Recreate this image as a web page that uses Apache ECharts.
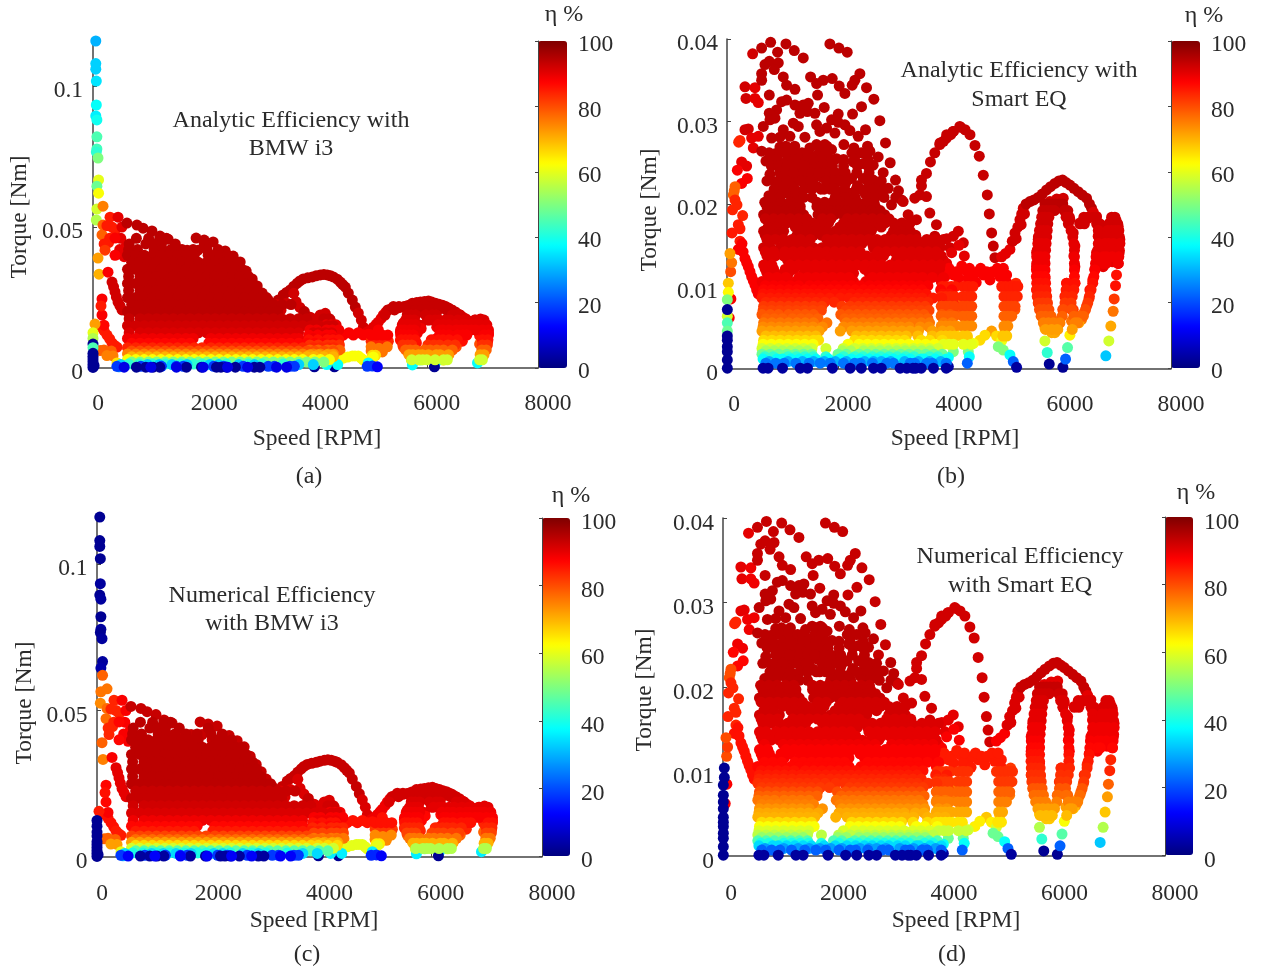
<!DOCTYPE html>
<html>
<head>
<meta charset="utf-8">
<style>html,body{margin:0;padding:0;background:#fff}#c{width:1261px;height:971px}</style>
<script src="https://cdn.jsdelivr.net/npm/echarts@6/dist/echarts.min.js"></script>
</head>
<body>
<div id="c"></div>
<script>
const speedTicks = [0, 2000, 4000, 6000, 8000];
const etaTicks = [0, 20, 40, 60, 80, 100];
const bmwTorqueTicks = [0, 0.05, 0.1];
const smartTorqueTicks = [0, 0.01, 0.02, 0.03, 0.04];

// Groups: [eta analytic, eta numerical, [speed, torque, speed, torque, ...]]
const bmwAxisHigh = [
 [30,2,[50,.116]],[33,2,[50,.108,50,.106]],[35,2,[60,.1018]],[38,3,[60,.0933]],[36,2,[50,.0894]],[39,3,[70,.088]],
 [45,2,[70,.082]],[44,3,[70,.0777]],[42,2,[60,.0766]],[50,3,[90,.0745]],[60,3,[100,.0667]],[48,4,[70,.0645]],[62,78,[100,.062]],
 [58,76,[70,.0564]],[55,74,[60,.0525]],[75,76,[180,.0574]],[85,84,[306,.0535]],[90,88,[450,.0535]],[78,77,[180,.0507,162,.0472]],
 [85,84,[342,.05,250,.0505,400,.049,300,.046,280,.0445,200,.044]],[90,88,[500,.046,480,.042,600,.0435,560,.0395,520,.050]],
 [88,87,[396,.0461,396,.04]],[82,84,[216,.0418]],[72,78,[90,.039]],[70,75,[108,.0333]],[88,88,[270,.034]],
 [92,90,[342,.0305,396,.027,450,.0234,522,.0206,370,.0288,420,.0252,486,.022]],[88,87,[162,.0245,162,.0188]],[85,86,[144,.022,144,.0145,252,.0117,200,.0132,300,.0103]],
 [87,88,[198,.0152]],[85,85,[342,.0089,432,.0074,390,.008]],[78,78,[198,.0064,270,.0053,130,.0062,330,.006]],[75,72,[360,.0043,250,.0044]],[65,60,[432,.0018]],[25,30,[468,.0004]]
];
const bmwCurves = [
 [94,93,[610,.0514,790,.0507,900,.0496,1060,.0486,1205,.0468,1350,.0457,1854,.0461,1998,.0454,2160,.0447,1494,.0426,1692,.0418,1890,.0418,2070,.04,2250,.0404,2376,.0415,2520,.0397,2646,.0376,2754,.0344,2862,.0316,2952,.0291,3042,.0266,3150,.0241,3240,.0216]],
 [94,93,[3330,.0241,3420,.0259,3546,.0277,3672,.0301,3780,.0316,3942,.0323,4086,.033,4212,.033,4320,.0323,4446,.0305,4536,.0287,4590,.0266,4662,.0241,4716,.0216,3480,.0268,3610,.029,3720,.0309,3860,.032,4010,.0327,4150,.0332,4270,.0327,4390,.0315,4490,.0296]],
 [92,91,[3300,.0225,3380,.0205,3480,.023,3610,.0265,4770,.0195,4824,.017,4860,.0145,3786,.02,3906,.018,4026,.0176,4086,.0188,4176,.0194,4266,.017,4296,.0147,3650,.0235,3720,.0215]],
 [90,89,[4932,.0128,5040,.0145,5130,.0163,5220,.0188,4990,.0135,5090,.0155,5180,.0176,5265,.0198]],
 [93,92,[5310,.0206,5436,.0213,5580,.0216,5742,.023,5886,.0234,6030,.0238,6156,.023,6282,.0223,6390,.0213,6516,.0199,5370,.021,5500,.0214,5660,.0222,5820,.0232,5960,.0236,6090,.0234,6220,.0226,6340,.0218,6450,.0206]],
 [91,90,[6642,.0181,6750,.0167,6876,.017,6966,.0174,6580,.019,6700,.0175,5652,.0188,5760,.0206,5886,.0213,6012,.0206,6120,.0188,5580,.016,6210,.016,6012,.017,5886,.0152,6372,.0152,6516,.0145,5650,.0175,5780,.019,5950,.0195,6080,.018,6440,.015]],
 [89,87,[7056,.0152,7110,.0124,5526,.0128,5650,.0145,6282,.0128,6180,.0145,5832,.0124,6570,.0117,6680,.0145,6880,.0135,7020,.015,6780,.015,5900,.014,6640,.013]],
 [86,84,[7092,.0092,6950,.0115,5526,.0099,5650,.011,6282,.0099,6180,.0105,5814,.0089,6120,.0099,6552,.0089,6640,.0095,7000,.0105]],
 [80,78,[7056,.0071,5580,.0074,5680,.008,6246,.0071,6170,.0075,6066,.0082,6950,.0085,6462,.0064,6530,.0075,7020,.007]],
 [74,72,[5670,.0053,5850,.0053,6012,.0053,6100,.0058,6400,.0048,7000,.0048]],
 [66,62,[7002,.0039,5724,.0028,6192,.0039,6372,.0039,5770,.0038,6300,.0028]],
 [50,46,[5940,.0035,5890,.0028,6090,.0028]],
 [38,36,[6912,.0018,5742,.0011,6156,.0018]],
 [2,2,[6138,.0004,4340,.0004,3980,.0004]],
 [88,86,[4320,.0117,4500,.0117,4680,.0117,4860,.0117,5040,.011,5130,.0135,4600,.0125,4770,.0125,4950,.012,4420,.012]],
 [84,82,[5220,.0106,5292,.0089,5076,.0074,5160,.0095,5000,.0095,5100,.0085,5220,.0085,5310,.0095]],
 [76,74,[5202,.0057,5140,.007,4440,.0062,5000,.0075,5290,.0075,5080,.0055,5000,.006]],
 [66,64,[5020,.0045,5080,.0045]],
 [62,60,[5040,.0039,4986,.0028,4320,.0028]],
 [62,60,[4500,.0035,4662,.0043,4770,.0043,4860,.0028,4420,.0032,4580,.0039,4710,.0043,4820,.0035]],
 [38,36,[4950,.0018,4400,.0012,4200,.0012]],
 [18,16,[5022,.0007,4930,.0006]],[12,12,[5112,.0004]]
];
// Rows: [torque, eta analytic, eta numerical, [speeds]]
const bmwBands = [
 [.0460,94,94,[780,1000,1200,1320]],
 [.0440,94,94,[650,950,1090,1230,1480,2000]],
 [.0420,94,94,[640,800,1100,1250,1400,1600,1800,2050,2250]],
 [.0400,94,94,[620,770,920,1070,1220,1370,1520,1670,1820,2130,2280,2420]],
 [.0375,94,94,[695,845,995,1145,1295,1445,1595,1745,1895,2045,2195,2345,2495,2600]],
 [.0350,94,94,[620,770,920,1070,1220,1370,1520,1670,1820,1970,2120,2270,2420,2570,2680]],
 [.0325,94,94,[640,845,995,1145,1295,1445,1595,1745,1895,2045,2195,2345,2495,2645,2795]],
 [.0300,94,94,[620,770,920,1070,1220,1370,1520,1670,1820,1970,2120,2270,2420,2570,2720,2870]],
 [.0275,94,94,[640,845,995,1145,1295,1445,1595,1745,1895,2045,2195,2345,2495,2645,2795,2945]],
 [.0250,94,94,[620,770,920,1070,1220,1370,1520,1670,1820,1970,2120,2270,2420,2570,2720,2870,3020,3120]],
 [.0225,94,93,[695,845,995,1145,1295,1445,1595,1745,1895,2045,2195,2345,2495,2645,2795,2945,3095,3245,3400,3560]],
 [.0200,94,93,[620,770,920,1070,1220,1370,1520,1670,1820,1970,2120,2270,2420,2570,2720,2870,3020,3170,3320,3800]],
 [.0175,93,92,[650,845,995,1145,1295,1445,1595,1745,1895,2045,2195,2345,2495,2645,2795,2945,3095,3245,3395,3545,3695,3845,4150,4250]],
 [.0150,92,91,[620,770,920,1070,1220,1370,1520,1670,1820,1970,2120,2270,2420,2570,2720,2870,3020,3170,3320,3470,3620,3770,3920,4070,4220,4320]],
 [.0125,91,89,[650,845,995,1145,1295,1445,1595,1745,1895,2045,2195,2345,2495,2645,2795,2945,3095,3245,3395,3545,3695,3960,4050,4176,4290]],
 [.0105,89,87,[620,770,920,1070,1220,1370,1520,1670,1800,2120,2270,2420,2570,2720,2870,3020,3170,3320,3470,3620,3700,3960,4176,4320]],
 [.0088,87,85,[695,845,995,1145,1295,1445,1595,1745,2080,2195,2345,2495,2645,2795,2945,3095,3245,3395,3545,3700,3850,3990,4150,4320]],
 [.0072,84,81,[620,770,920,1070,1220,1370,1520,1670,1820,1960,2120,2270,2420,2570,2720,2870,3020,3170,3320,3470,3620,3770,3960,4090,4230,4330]],
 [.0060,80,77,[695,845,995,1145,1295,1445,1595,1745,1895,2045,2195,2345,2495,2645,2795,2945,3095,3245,3395,3545,3695,3845,3980,4150,4320]],
 [.0050,75,72,[620,770,920,1070,1220,1370,1520,1670,1820,1970,2120,2270,2420,2570,2720,2870,3020,3170,3320,3470,3620,3770,3960,4090,4230,4330]],
 [.0040,70,66,[695,845,995,1145,1295,1445,1595,1745,1895,2045,2195,2345,2495,2645,2795,2945,3095,3245,3395,3545,3695,3845,3980,4150,4320]],
 [.0030,62,58,[620,770,920,1070,1220,1370,1520,1670,1820,1970,2120,2270,2420,2570,2720,2870,3020,3170,3320,3470,3620,3770,3960,4090,4250]],
 [.0021,50,46,[695,845,995,1145,1295,1445,1595,1745,1895,2045,2195,2345,2495,2645,2795,2945,3095,3245,3395,3545,3695,3845,3990,4150]],
 [.0014,42,40,[640,830,1070,1300,1570,1810,1960,2400,2790,3040,3420]],
 [.0012,33,34,[500,980,1190,1420,1690,2100,2260,2620,2900,3700,3960]],
 [.0006,18,18,[430,860,1230,1500,1620,2170,2350,2700,3150,3260,3540,3620]],
 [.0003,2,3,[780,950,1080,1200,1680,1950,2220,2300,2400,2560,2900,3000]],
 [.0003,10,12,[560,1040,1500,1980,2420,2780,3300,3480]]
];
const bmwRings = [
 [.0218,93,92,[5400,5500,5600,5700,5800,5900,6000,6100,6200,6300]],
 [.0206,93,92,[5300,5420,5800,5900,6000,6100,6200,6350,6450]],
 [.0188,92,91,[5250,5650,5720,5800,5980,6100,6170,6460,6530,6600]],
 [.0170,91,90,[5620,5700,5780,6050,6150,6220,6330,6420,6560,6680,6860,6950,7030]],
 [.0153,90,89,[5560,5640,5720,5800,6200,6300,6400,6520,6640,6700,6800,6880,6960,7080,4190,4280,4370]],
 [.0135,89,88,[5530,5600,5700,5780,6230,6290,6400,6530,6620,6700,6800,6880,7000,7110,4200,4300,4420,3900,4020]],
 [.0117,88,86,[5530,5590,5680,5760,6230,6300,6400,6550,6650,6720,7110,7030,5000,5100,5200,5300,4200,4290,3880,4040]],
 [.0100,86,84,[5540,5620,5700,5790,6080,6210,6290,6400,6550,7000,7100,4210,4310,4420,3880,4040]],
 [.0082,83,81,[5570,5660,5730,6020,6130,6230,6380,6510,7000,7090,4210,4310,4430,3900,4050]],
 [.0064,78,76,[5620,5700,5800,5960,6060,6180,6300,6460,6990,7070,4210,4310,4430,3900,4050]],
 [.0047,72,70,[5680,5750,5850,5920,6030,6170,6240,6390,6960,7030,4210,4310,3900,4050]],
 [.0029,58,55,[5730,5860,5930,6000,6150,6300,6370,6950,7000]]
];
const bmwAxisLow = [
 [72,85,[36,.0156]],[60,2,[0,.0125]],[55,2,[0,.0105]],[2,2,[0,.0085]],[45,2,[0,.0072]],
 [2,2,[0,.0052,0,.0042,0,.0032,0,.0022,0,.0012,0,.0002,20,.0008]]
];

const smartAxisHigh = [
 [92,90,[462,.0382,324,.0342,342,.0328,324,.029,384,.0291]],
 [84,84,[234,.0277,210,.0275]],
 [90,89,[504,.0341,504,.0328,564,.0323,444,.028,564,.0282,474,.0268,264,.0251,354,.0246]],
 [88,87,[186,.0241,366,.0231,264,.0225]],
 [78,80,[144,.0221,114,.0211,130,.0216]],
 [84,84,[144,.0205,100,.0193,180,.0199,282,.0186]],
 [85,84,[234,.0155,90,.0165,234,.017,204,.0175]],
 [88,86,[204,.0145,324,.0134,384,.0124,444,.0112,504,.0102,564,.0091,270,.0152,290,.0142,354,.0129,414,.0118,474,.0107,534,.0096]],
 [80,80,[66,.0118]],[76,82,[84,.0129]],[72,80,[54,.014]],[88,88,[70,.0085,40,.0062]]
];
const smartAxisLow = [
 [68,2,[24,.0104]],[63,2,[24,.0093]],[50,2,[6,.0084]],[58,2,[6,.0064]],[45,2,[6,.0056]],[48,2,[6,.0046]],
 [2,2,[6,.0072,6,.004,6,.0035,6,.0027,6,.0021,6,.0011,6,.0001]]
];
const smartUpper = [
 [94,93,[786,.0396,624,.0389,1062,.0394,912,.0384,1212,.0386,1374,.0377,1854,.0394,2016,.0389,2166,.0384,924,.0371,762,.0373,684,.0369,624,.0358,852,.0363,624,.035,1014,.0354,1074,.0344,1224,.0339,1506,.0354,1614,.0346,1734,.035,1896,.0352,2022,.0343,2124,.0334,1632,.0332,2394,.0358,2304,.035,2256,.0344,2514,.0341,2646,.0327,762,.0332,1752,.0317,2424,.0318,2262,.0309,2754,.0301,2856,.0274,2940,.025,2814,.0238]],
 [94,94,[1074,.0326,984,.0324,894,.0314,762,.031,864,.0304,774,.0302,654,.0294,1224,.032,1374,.032,1464,.0322,1446,.0312,1584,.031,1314,.031,2004,.0309,1884,.0302,2004,.0299,1614,.0296,1674,.0288,1794,.0292,1944,.0286,2124,.0296,2214,.0289,2496,.029,2364,.0282,1284,.0294,1194,.0298,804,.028,1014,.029,954,.0281,1134,.0282,1404,.0281,2106,.0272,2286,.0268,2532,.027,2574,.0264,954,.0269,864,.0261,702,.0252,834,.0253,1014,.0249,1164,.0249,1284,.0255,1374,.0261,1494,.0268,1614,.0272,1764,.0272,1884,.0266,1974,.0255,1794,.0255,2274,.0251,2454,.0249,2724,.0257,2634,.0247,624,.0264]],
 [94,94,[774,.0236,864,.0227,1164,.0241,1314,.0241,1464,.0243,1584,.0247,1734,.0241,1704,.0233,2034,.0237,2244,.0231,2454,.0231,2634,.0229,2904,.0219,3036,.0229,3090,.0216,2706,.0221,2754,.0211,2484,.0213,2244,.0213,2034,.0213,1854,.0223,1632,.0221,1434,.0221,1224,.0227,1014,.0227,954,.0217,1104,.0213,1314,.0213,756,.021,2964,.0199,3144,.0205]],
 [94,94,[1400,.0252,1520,.0258,1660,.0262,1000,.0237,1150,.0232,1300,.023,1450,.0233,1580,.0236,1800,.0233,1950,.0226,2130,.0224,2350,.0222,2560,.0221,1150,.0222,1550,.0228,1750,.0218]],
 [94,94,[1060,.027,1220,.027,1700,.027,1800,.027,760,.0262,950,.0262,1050,.0262,1180,.0262,1350,.0262,1450,.0262,1700,.0262,1780,.0262,2250,.0262,2420,.0262,900,.0254,1090,.0254,1220,.0254,1450,.0254,1560,.0254,1680,.0254,1880,.0254,2100,.0254,2300,.0254,2540,.0254,800,.0246,930,.0246,1080,.0246,1240,.0246,1390,.0246,1690,.0246,1810,.0246,1900,.0246,2100,.0246,2350,.0246,2540,.0246]],
 [94,94,[950,.0238,1060,.0238,1200,.0238,1380,.0238,1530,.0238,1660,.0238,1850,.0238,1950,.0238,2130,.0238,2340,.0238,2560,.0238,720,.0228,940,.0228,1080,.0228,1340,.0228,1500,.0228,1790,.0228,1930,.0228,2060,.0228,2160,.0228,2540,.0228,2780,.0228,850,.0218,1020,.0218,1220,.0218,1390,.0218,1530,.0218,1690,.0218,1860,.0218,1950,.0218,2120,.0218,2330,.0218,2420,.0218,2620,.0218,2840,.0218,830,.0208,950,.0208,1230,.0208,1380,.0208,1530,.0208,1950,.0208,2120,.0208,2310,.0208,2560,.0208,2650,.0208,2830,.0208,3040,.0208]],
 [93,92,[3174,.0203,3264,.0187,3414,.0181,3654,.0189,3774,.0175,3744,.0161,3384,.0207,3474,.0211,3594,.0209,3504,.0222,3504,.0229,3594,.0237,3666,.0251,3744,.0262,3834,.0272,3954,.028,4074,.0288,4194,.0294,4030,.0284,3900,.0276]],
 [93,92,[3838,.0274,3958,.0284,4078,.0288,4210,.0293,4378,.0284,4468,.0271,4546,.0258,4618,.0235,4690,.0211,4726,.0188,4768,.0165,4798,.0149,4828,.0135,4290,.029]],
 [92,90,[4018,.0147,4078,.0161,4168,.0167,4258,.0153,3960,.0158]],
 [90,88,[3958,.0128,4048,.0141,4276,.0137,3898,.0132,4180,.015,4948,.0136,5098,.0145,5020,.014,5140,.0155]],
 [88,85,[3928,.0112,4078,.0114,4288,.012,4438,.0112,4618,.0114,4738,.0108,4918,.0112,5038,.0114,4170,.011,4340,.011,4520,.0118,4830,.0118,3860,.0122,4000,.0122,4130,.0118,4230,.0125,4370,.0122,4490,.0105,4570,.0122,4680,.0118,4780,.0118,4870,.0122,4980,.0122,5040,.0105]],
 [92,91,[5188,.0165,5278,.0181,5338,.0195,5240,.0172,5310,.0188,5150,.0155,5210,.0158,5300,.0175,5360,.0188]],
 [94,93,[5458,.0203,5608,.0208,5758,.0217,5908,.0225,6046,.0229,6178,.0223,6328,.0215,6478,.0207,6568,.0195,5390,.02,5530,.0205,5680,.0212,5830,.0221,5980,.0228,6110,.0226,6250,.0219,6400,.0211,6530,.02]],
 [91,90,[6658,.0185,6358,.0177,6508,.0183,6430,.018,6600,.019,6718,.0173,6868,.0169,6958,.0183,7048,.0173,6910,.0178,7010,.018,6960,.0165,6778,.0157,6898,.0149,7078,.0157,7066,.0141,6990,.015,6830,.0165]],
 [92,90,[6058,.0207,5818,.0203,5728,.0193,5668,.0177,5608,.0157,5940,.0206,6000,.0205,5780,.0186,5960,.0195,5860,.02,6178,.0181,6238,.0165,6100,.019]],
 [90,88,[6748,.0141,6826,.0132,7048,.0128,6778,.0124,5578,.0141,5578,.0124,5700,.015,5720,.013,5730,.011,6268,.0149,6250,.0137,6268,.0124,6688,.0161,6658,.0141,6628,.0121,6950,.013]],
 [86,84,[7018,.0114,7000,.0101,5578,.0096,5745,.0095,6268,.0104,6118,.0104,6538,.0096,6590,.0108,6208,.009,6088,.0088]],
 [82,78,[6976,.0085,5608,.008,5760,.008,6478,.0076,6238,.0072,6050,.0072,6520,.0085]],
 [76,72,[6958,.007,5668,.0064,5780,.0065,6388,.006,6298,.006,6208,.0058,5980,.0058,6430,.0068]],
 [71,68,[6916,.0052,5728,.005,5830,.005,5908,.0044,5850,.0044,5960,.0048,6340,.0056]],
 [58,55,[6880,.0034,5728,.0034]],[64,62,[6178,.0041]],[46,46,[6136,.0026]],[42,42,[5770,.002]],[32,32,[6826,.0016]],
 [2,2,[5806,.0006,6052,.0002]],[22,22,[6100,.0012]],
 [84,82,[5206,.0104,5128,.01,5068,.0094,5230,.0088,5128,.0084,5068,.008]],
 [79,76,[5188,.0072,5038,.0064,5110,.0064]],
 [72,68,[5008,.0048,4768,.0046]],
 [85,82,[4348,.01,4108,.0081,3958,.0085,4348,.0085]],
 [79,76,[4348,.0068,3958,.0068,4140,.0072,4250,.0085]],
 [72,70,[4348,.0052,3958,.0052,4140,.0052]],
 [66,64,[3988,.0044,4330,.0038,4648,.0041,4558,.0035,4858,.004,4140,.004]],
 [61,58,[3988,.0033,4288,.0031,4438,.0031,4948,.0034,4080,.003]],
 [50,48,[4078,.0021,4348,.0021,4978,.0023,4888,.0027]],
 [38,38,[3988,.0014,3868,.0014,4366,.0015,5098,.0017]],
 [22,22,[5158,.0009,4330,.0007]],[3,3,[3988,.0003,5218,.0002]]
];
const smartBands = [
 [.0202,94,93,[680,830,980,1130,1280,1620,1760,1900,2050,2200,2350,2500,2650]],
 [.0197,94,93,[720,870,1020,1170,1320,1620,1770,1920,2070,2220,2370,2520,2670]],
 [.0192,94,93,[740,890,1040,1190,1320,1700,1850,2000,2150,2300,2450,2600,2760]],
 [.0187,94,93,[660,810,960,1110,1260,1380,1640,1790,1940,2090,2240,2390,2540,2690,2840]],
 [.0182,93,92,[690,840,990,1140,1290,1440,1720,1870,2170,2320,2470,2620,2770,2920]],
 [.0177,93,92,[780,930,1080,1230,1380,1530,1680,1830,2100,2250,2400,2550,2700,2850,3000,3150,3300]],
 [.0172,93,92,[740,890,1230,1300,1450,1600,1750,2030,2180,2330,2480,2630,2780,3080,3230]],
 [.0167,93,92,[660,810,1020,1350,1500,1650,1800,1950,2100,2250,2380,2600,3000,3150,3300]],
 [.0162,93,91,[690,840,990,1260,1410,1560,1710,1860,2010,2160,2310,2460,2960,3110,3260,3400]],
 [.0157,92,91,[720,870,1020,1170,1320,1500,1800,1950,2100,2250,2400,2550,2700,2850,3000,3150,3300,3420,3600,3750,3900]],
 [.0152,92,91,[740,1090,1240,1390,1830,1980,2130,2280,2430,2620,2770,2920,3070,3220,3370,3530,3680,3830]],
 [.0147,92,90,[660,780,960,1110,1260,1410,1560,1710,1860,2010,2160,2310,2640,2790,2940,3090,3240,3390,3540,3690,3840]],
 [.0142,91,90,[690,840,1040,1190,1340,1490,1640,1790,1940,2090,2240,2400,2720,2870,3020,3170,3320,3470,3620,3770]],
 [.0137,91,90,[720,870,1020,1170,1320,1470,1620,1770,1920,2070,2220,2370,2520,2670,2820,3120,3270,3420,3570,3740,3860]],
 [.0132,91,89,[750,1090,1240,1390,1540,1690,1840,1990,2140,2290,2440,2590,2750,3050,3200,3350,3500,3640,3800]],
 [.0126,90,88,[660,810,1140,1290,1440,1590,1740,1890,2040,2190,2340,2490,2640,2790,2940,3090,3240,3390,3540,3690,3840]],
 [.0121,90,88,[690,840,1050,1210,1460,1610,1760,1910,2060,2210,2480,2630,2780,2930,3080,3230,3380,3530,3680,3830]],
 [.0116,90,88,[720,870,1020,1110,1380,1530,1680,1830,1980,2130,2280,2560,2710,2860,3010,3160,3310,3460,3610,3800]],
 [.0111,89,87,[750,900,1060,1300,1450,1600,1750,1900,2050,2200,2620,2770,2920,3070,3220,3370,3520,3700,3900]],
 [.0106,89,87,[630,780,930,1080,1230,1380,1530,1680,1830,1980,2130,2280,2500,2650,2800,2950,3100,3250,3400,3550,3860]],
 [.0101,88,86,[690,840,990,1140,1290,1490,1640,1790,1940,2090,2240,2400,2570,2720,2870,3020,3170,3320,3470,3620,3880]],
 [.0096,87,85,[660,810,960,1110,1260,1410,1560,1710,1860,2010,2160,2310,2460,2610,2760,2910,3060,3210,3360,3510,3850,4050]],
 [.0091,86,84,[650,800,950,1100,1250,1400,1500,1640,1790,1940,2090,2240,2390,2540,2690,2840,2990,3140,3290,3440,3590,3880,4000]],
 [.0086,85,83,[630,780,930,1080,1230,1380,1530,1680,1850,2040,2200,2350,2500,2650,2800,2950,3100,3250,3400,3520,3714,3870]],
 [.0081,84,82,[700,850,1000,1150,1300,1450,1600,1760,1930,2290,2440,2590,2740,2890,3040,3190,3340,3490,3620]],
 [.0076,82,80,[660,810,960,1110,1260,1410,1560,1710,2070,2220,2370,2520,2670,2820,2970,3120,3270,3420,3570,3870,4000]],
 [.0071,81,78,[650,800,950,1100,1250,1400,1550,1700,2140,2290,2440,2590,2740,2890,3040,3190,3340,3490,3640]],
 [.0066,79,76,[630,780,930,1110,1260,1410,1560,2050,2200,2350,2500,2650,2800,2950,3100,3250,3400,3550,3870,4020]],
 [.0061,78,75,[700,850,1000,1180,1330,1480,1640,2120,2270,2420,2570,2720,2870,3020,3170,3320,3470,3620]],
 [.0056,76,73,[660,810,960,1110,1260,1410,1560,1800,2150,2300,2450,2600,2750,2900,3050,3200,3350,3500,3650,3900,4050]],
 [.0051,74,71,[650,800,950,1100,1250,1400,1550,1720,2100,2240,2380,2530,2680,2830,2980,3130,3280,3480,3640]],
 [.0046,72,70,[630,780,930,1080,1230,1380,1530,1660,2040,2250,2400,2550,2700,2850,3000,3150,3300,3450,3700,3880,4020]],
 [.0040,69,66,[700,850,1000,1150,1300,1450,1600,2330,2480,2630,2780,2930,3080,3230,3440,3700]],
 [.0035,66,62,[660,810,960,1110,1260,1410,1560,1650,2300,2450,2600,2750,2900,3050,3200,3500,3650,3880]],
 [.0030,62,59,[650,800,950,1100,1250,1400,1550,2180,2380,2530,2680,2830,2980,3130,3280,3430,3580,3740]],
 [.0025,58,56,[630,780,930,1080,1230,1380,1530,1782,2094,2300,2450,2600,2750,2900,3050,3200,3360,3500,3650,3800]],
 [.0022,54,52,[700,850,1000,1150,1300,1450,2080,2230,2460,2610,2760,2910,3060,3210,3360,3510,3660]],
 [.0018,48,45,[630,780,930,1080,1230,1380,1530,2000,2150,2380,2530,2680,2830,2980,3130,3280,3430,3580,3730,3880]],
 [.0015,42,40,[680,830,1100,1250,1400,1550,1780,2100,2300,2450,2620,2770,2920,3070,3220,3370,3650,3800]],
 [.0012,38,34,[650,900,1000,1150,1300,1450,1600,1830,2030,2240,2400,2560,2700,2860,3000,3160,3300,3500,3550,3750,3950]],
 [.0009,30,28,[760,1100,1360,1560,1750,1950,2150,2480,2640,2780,2950,3200,3450,3650,3850]],
 [.0007,24,22,[700,880,1030,1240,1480,1680,1860,2100,2300,2400,2620,2880,3000,3300,3380,3600,3700,3950]],
 [.0001,3,3,[650,740,1000,1320,1450,1900,2220,2420,2640,2780,3120,3240,3350,3400,3500,3720,3950]]
];
const smartRings = [
 [.0200,94,93,[5730,5800,5860,5920,5990,6050]],
 [.0192,93,92,[5690,5760,5830,5900,6080,6140]],
 [.0184,92,91,[5670,5730,5800,6110,6170,6430,6500,6600,6650,6930,6990]],
 [.0176,92,91,[5650,5710,5780,6150,6360,6440,6660,6720,6880,6960,7040]],
 [.0168,91,90,[5630,5700,5770,6200,6690,6860,6930,7000,7060]],
 [.0160,91,90,[5610,5680,5760,6230,6700,6830,6900,6970,7070]],
 [.0152,90,89,[5600,5670,5750,6250,6690,6810,6880,6960,7080]],
 [.0144,90,89,[5590,5660,5740,6260,6680,6790,6860,6950,7070]],
 [.0136,89,88,[5580,5650,5730,6260,6650,6780,6840,6940,7060]],
 [.0128,89,87,[5580,5650,5730,6260,6640,6780,6830,7050]],
 [.0120,88,86,[5575,5650,5730,6260,6630]],
 [.0112,87,85,[5575,5650,5730,6260,6610]],
 [.0104,86,84,[5580,5650,5740,6120,6270,6590]],
 [.0100,85,83,[3880,3960,4040,4110,4260,4340,4430,4950,5020,5100,5170,5240]],
 [.0096,85,83,[5580,5660,5745,6110,6250,6560]],
 [.0088,84,82,[3860,3940,4020,4100,4250,4330,4410,4990,5060,5130,5200,5590,5670,5760,6100,6220,6530]],
 [.0080,82,79,[5610,5690,5775,6090,6200,6500]],
 [.0076,81,78,[3860,3940,4020,4100,4250,4330,4410,4990,5060,5130,5190]],
 [.0072,80,77,[5630,5710,5800,6060,6210,6460]],
 [.0064,78,75,[3860,3940,4020,4100,4250,4330,4410,4990,5060,5130,5660,5740,5840,6040,6250,6420,6350]],
 [.0056,75,72,[5700,5790,5880,6000,6320,6270]],
 [.0052,74,71,[3860,3940,4020,4100,4250,4330,4410,4990,5060]],
 [.0048,72,69,[5740,5850,5950,6220]],
 [.0040,68,65,[3860,3940,4020,4100,4250,4330,4970,5040]],
 [.0030,60,57,[3900,4000,4080,4260,4400]]
];

function fromGroups(groups, idx) {
  const out = [];
  groups.forEach(g => { for (let i = 0; i < g[2].length; i += 2) out.push([g[2][i], g[2][i + 1], g[idx]]); });
  return out;
}
function fromRows(rows, idx) {
  const out = [];
  rows.slice().sort((a, b) => b[0] - a[0]).forEach(r => r[3].forEach(s => out.push([s, r[0], r[idx + 1]])));
  return out;
}
const bmwPts = i => fromGroups(bmwAxisHigh, i).concat(fromGroups(bmwCurves, i), fromRows(bmwBands.concat(bmwRings), i), fromGroups(bmwAxisLow, i));
const smartPts = i => fromGroups(smartAxisHigh, i).concat(fromGroups(smartUpper, i), fromRows(smartBands.concat(smartRings), i), fromGroups(smartAxisLow, i));

const jet = ['#00007f','#0000ff','#007fff','#00ffff','#7fff7f','#ffff00','#ff7f00','#ff0000','#7f0000'];
const font = 'Liberation Serif', fs = 23.5, ink = '#2b2b2b', line = '#444444';

const panels = [
 {g:[93,41,445,327], cb:[538,41,29,327], ymax:.116, pts:bmwPts(0), ticks:bmwTorqueTicks, xpad:[0,0,0,3], ypad:[0,25,0,0], ygap:61, zero:10, xm:24, xgap:59, ym:10, lh:9, cblh:8},
 {g:[727,39,444,330], cb:[1171,41,29,327], ymax:.04, pts:smartPts(0), ticks:smartTorqueTicks, xpad:[0,0,0,12], ypad:[0,12,0,0], ygap:65, zero:6, xm:24, xgap:58, ym:9, lh:10, cblh:8},
 {g:[97,518,445,339], cb:[542,518,28,338], ymax:.1157, pts:bmwPts(1), ticks:bmwTorqueTicks, xpad:[0,11,0,0], ypad:[0,31,0,0], ygap:60, zero:10, xm:25, xgap:52, ym:9.5, lh:10, cblh:10},
 {g:[723,518,442,338], cb:[1165,517,28,338], ymax:.04, pts:smartPts(1), ticks:smartTorqueTicks, xpad:[0,0,0,24], ypad:[0,6,0,0], ygap:66, zero:4, xm:26, xgap:53, ym:9, lh:11, cblh:11}
];

const grid=[], xAxis=[], yAxis=[], series=[], visualMap=[];
panels.forEach((p,i)=>{
  grid.push({left:p.g[0],top:p.g[1],width:p.g[2],height:p.g[3]});
  xAxis.push({gridIndex:2*i,type:'value',min:speedTicks[0],max:speedTicks[4],interval:2000,
    name:'Speed [RPM]',nameLocation:'middle',nameGap:p.xgap,
    nameTextStyle:{fontFamily:font,fontSize:fs,color:ink,padding:p.xpad},
    axisLine:{onZero:false,lineStyle:{color:line,width:1.5}},
    axisTick:{inside:true,length:4,lineStyle:{color:line}},splitLine:{show:false},
    axisLabel:{margin:p.xm,color:ink,fontFamily:font,fontSize:fs,padding:[0,0,0,20],hideOverlap:false,showMinLabel:true,showMaxLabel:true,
      formatter:v=>v===0?'{z|0}':String(v),
      rich:{z:{fontFamily:font,fontSize:fs,color:ink,padding:[0,p.zero,0,0]}}}});
  yAxis.push({gridIndex:2*i,type:'value',min:0,max:p.ymax,
    name:'Torque [Nm]',nameLocation:'middle',nameGap:p.ygap,nameRotate:90,
    nameTextStyle:{fontFamily:font,fontSize:fs,color:ink,padding:p.ypad},
    axisLine:{onZero:false,lineStyle:{color:line,width:1.5}},
    axisTick:{inside:true,length:4,lineStyle:{color:line},customValues:p.ticks},splitLine:{show:false},
    axisLabel:{margin:p.ym,color:ink,fontFamily:font,fontSize:fs,verticalAlign:'top',lineHeight:p.lh,customValues:p.ticks}});
  series.push({type:'scatter',xAxisIndex:2*i,yAxisIndex:2*i,data:p.pts,symbolSize:11,clip:false,silent:true,itemStyle:{opacity:1},animation:false,z:3});
  visualMap.push({type:'continuous',min:0,max:100,dimension:2,seriesIndex:i,calculable:false,show:true,hoverLink:false,realtime:false,
    left:p.cb[0],top:p.cb[1],itemWidth:p.cb[2],itemHeight:p.cb[3],padding:0,text:null,showLabel:false,orient:'vertical',
    inRange:{color:jet},textStyle:{color:'rgba(0,0,0,0)',fontSize:1},z:4});
  grid.push({left:p.cb[0],top:p.cb[1],width:p.cb[2],height:p.cb[3]});
  xAxis.push({gridIndex:2*i+1,type:'value',show:false,min:0,max:1});
  yAxis.push({gridIndex:2*i+1,type:'value',position:'right',min:etaTicks[0],max:etaTicks[5],interval:20,z:10,
    axisLine:{show:true,lineStyle:{color:line,width:1}},axisTick:{inside:true,length:3,lineStyle:{color:line}},splitLine:{show:false},
    axisLabel:{margin:11,color:ink,fontFamily:font,fontSize:fs,verticalAlign:'top',lineHeight:p.cblh}});
});
const texts = [
 ['Analytic Efficiency with',291,121],['BMW i3',291,149],['(a)',309,477],['η %',564,15],
 ['Analytic Efficiency with',1019,71],['Smart EQ',1019,100],['(b)',951,477],['η %',1204,16],
 ['Numerical Efficiency',272,596],['with BMW i3',272,624],['(c)',307,955],['η %',571,496],
 ['Numerical Efficiency',1020,557],['with Smart EQ',1020,586],['(d)',952,955],['η %',1196,493]
];
const graphic = texts.map(t=>({type:'text',z:20,
  style:{text:t[0],x:t[1],y:t[2],fill:ink,font:'24px "'+font+'"',textAlign:'center',textVerticalAlign:'middle'}}));

const chart = echarts.init(document.getElementById('c'),null,{renderer:'canvas'});
chart.setOption({animation:false,backgroundColor:'#fff',grid,xAxis,yAxis,series,visualMap,graphic});
</script>
</body>
</html>
